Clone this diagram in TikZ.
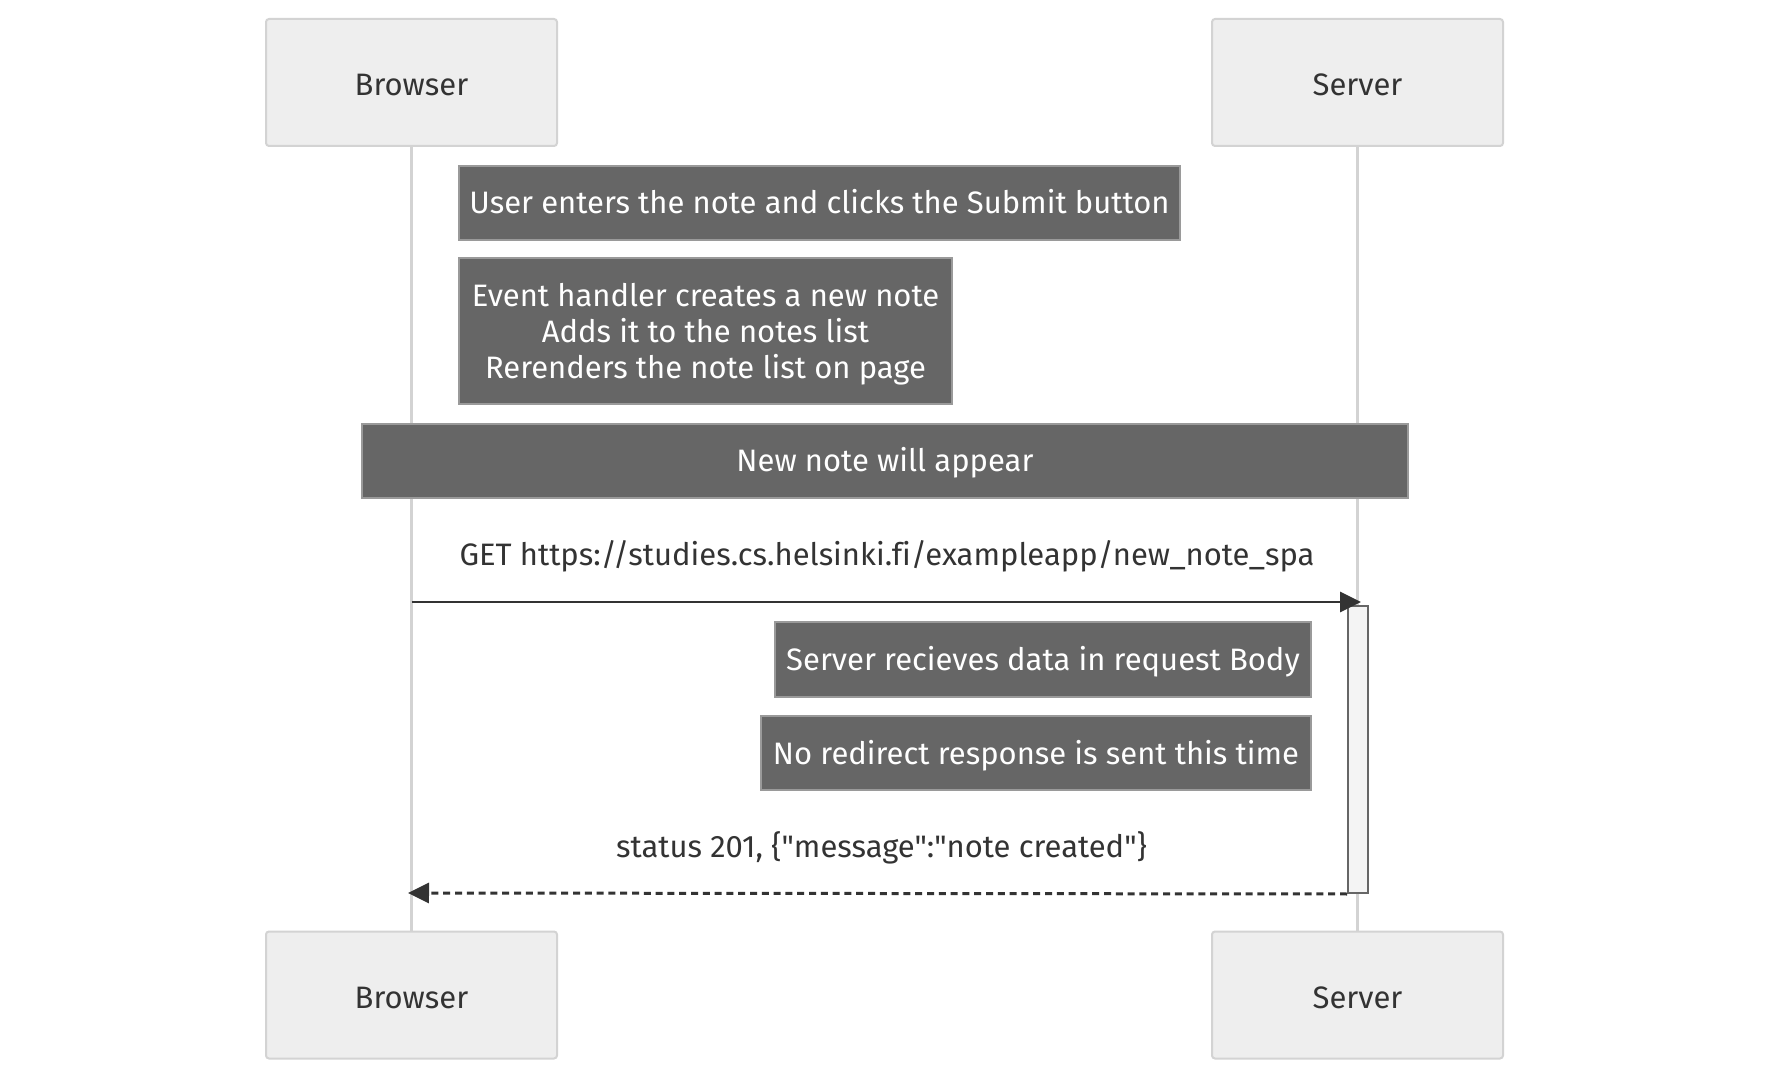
\documentclass[tikz,border=0pt]{standalone}
\usepackage{fontspec}
\setmainfont{Fira Sans}[Ligatures={NoCommon,TeXOff}]
\usetikzlibrary{arrows.meta}
\definecolor{actfill}{HTML}{EEEEEE}
\definecolor{actline}{HTML}{D3D3D3}
\definecolor{notefill}{HTML}{666666}
\definecolor{noteline}{HTML}{9A9A9A}
\definecolor{txt}{HTML}{333333}
\definecolor{actvfill}{HTML}{F4F4F4}
\begin{document}
\begin{tikzpicture}[x=0.5pt,y=-0.5pt,
  every node/.style={font=\fontsize{15.5pt}{18pt}\selectfont, inner sep=0pt},
  actor/.style={draw=actline, fill=actfill, line width=1pt, rounded corners=1.5pt,
    minimum width=145.5pt, minimum height=63.5pt, text=txt, text height=13pt, text depth=0pt},
  note/.style={draw=noteline, fill=notefill, line width=1pt, text=white, align=center,
    minimum height=37pt, text height=12pt, text depth=1pt},
  notebox/.style={draw=noteline, fill=notefill, line width=1pt},
  notetext/.style={text=white, align=center},
  lifeline/.style={draw=actline, line width=1.5pt},
  msg/.style={draw=txt, line width=1.4pt, -{Triangle[length=10.5pt,width=10pt]}},
  reply/.style={msg, line width=1.5pt, dash pattern=on 3.5pt off 2.4pt},
  activ/.style={draw=notefill, fill=actvfill, line width=1pt, minimum width=10pt, minimum height=143.5pt},
  lbl/.style={text=txt, anchor=base}
]
\useasboundingbox[fill=white] (0,0) rectangle (1769,1080);
% actors
\node[actor] (btop) at (411.5,82.5) {Browser};
\node[actor] (stop) at (1357.5,82.5) {Server};
\node[actor] (bbot) at (411.5,995) {Browser};
\node[actor] (sbot) at (1357.5,995) {Server};
% lifelines
\draw[lifeline] (btop.south) -- (bbot.north);
\draw[lifeline] (stop.south) -- (sbot.north);
% notes
\node[note, minimum width=360.5pt] (n1) at (819.5,203) {User enters the note and clicks the Submit button};
\node[notebox, minimum width=246.5pt, minimum height=73pt] (n2) at (705.5,331) {};
\node[notetext] (n2t) at ([yshift=-1.6pt]n2.center) {Event handler creates a new note\\Adds it to the notes list\\Rerenders the note list on page};
\node[note, minimum width=523pt] (n3) at (885,461) {New note will appear};
% activation
\node[activ] (act) at (1358,749.5) {};
% message 1
\coordinate (m1s) at (btop.south |- 0,602);
\coordinate (m1e) at (1361,602);
\node[lbl] (l1) at (887,566) {GET https://studies.cs.helsinki.fi/exampleapp/new\_note\_spa};
\draw[msg] (m1s) -- (m1e);
% notes over server
\node[note, minimum width=268pt, minimum height=37.5pt] (n4) at (1043,659.5) {Server recieves data in request Body};
\node[note, minimum width=275pt] (n5) at (1036,753) {No redirect response is sent this time};
% reply
\coordinate (m2s) at (act.south west);
\coordinate (m2e) at (408,893);
\node[lbl] (l2) at (881.5,857) {status 201, \{"message":"note created"\}};
\draw[reply] (m2s) -- (m2e);
\end{tikzpicture}
\end{document}
